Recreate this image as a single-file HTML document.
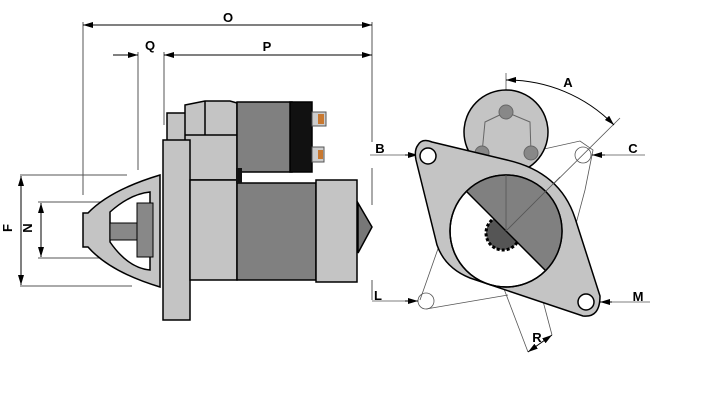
<!DOCTYPE html>
<html><head><meta charset="utf-8"><style>html,body{margin:0;padding:0;background:#fff}svg{display:block}</style></head><body>
<svg width="704" height="400" viewBox="0 0 704 400" xmlns="http://www.w3.org/2000/svg" font-family="Liberation Sans, sans-serif" font-weight="bold" font-size="13">
<defs>
<marker id="ar" viewBox="0 0 10 6" refX="10" refY="3" markerWidth="10" markerHeight="6" orient="auto-start-reverse" markerUnits="userSpaceOnUse"><path d="M0,0L10,3L0,6z" fill="#000"/></marker>
</defs>
<g stroke="#555" stroke-width="1" fill="none">
<line x1="83" y1="22" x2="83" y2="195"/>
<line x1="372" y1="22" x2="372" y2="142"/>
<line x1="372" y1="168" x2="372" y2="205"/>
<line x1="372" y1="280" x2="372" y2="300"/>
<line x1="138" y1="52" x2="138" y2="170"/>
<line x1="164" y1="52" x2="164" y2="125"/>
<line x1="20" y1="175" x2="127" y2="175"/>
<line x1="20" y1="286" x2="132" y2="286"/>
<line x1="38" y1="202" x2="135" y2="202"/>
<line x1="38" y1="258" x2="135" y2="258"/>
</g>
<g stroke="#000" stroke-width="1" fill="none">
<line x1="83" y1="25" x2="372" y2="25" marker-start="url(#ar)" marker-end="url(#ar)"/>
<line x1="113" y1="55" x2="138" y2="55" marker-end="url(#ar)"/>
<line x1="164" y1="55" x2="372" y2="55" marker-start="url(#ar)" marker-end="url(#ar)"/>
<line x1="21" y1="176" x2="21" y2="285" marker-start="url(#ar)" marker-end="url(#ar)"/>
<line x1="41" y1="203" x2="41" y2="257" marker-start="url(#ar)" marker-end="url(#ar)"/>
</g>
<text x="228" y="22" text-anchor="middle">O</text>
<text x="150" y="50" text-anchor="middle">Q</text>
<text x="267" y="51" text-anchor="middle">P</text>
<text x="15" y="231" text-anchor="middle" transform="rotate(-90 12 231)">F</text>
<text x="35" y="231" text-anchor="middle" transform="rotate(-90 32 231)">N</text>

<g stroke="#000" stroke-width="1.5">
<path d="M83,213 L88,213 Q110,190 160,175 L160,287 Q110,272 88,247 L83,247 Z" fill="#c4c4c4"/>
<path d="M110,212 Q130,194 150,192 L150,270 Q128,268 110,242 Z" fill="#fff"/>
<rect x="110" y="223" width="30" height="17" fill="#888" stroke-width="1"/>
<rect x="137" y="203" width="16" height="54" fill="#888" stroke-width="1"/>
<rect x="167" y="113" width="19" height="28" fill="#c4c4c4"/>
<path d="M185,105 L205,101 L230,101 L237,103 L237,180 L185,180 Z" fill="#c4c4c4"/>
<line x1="205" y1="101" x2="205" y2="135"/><line x1="185" y1="135" x2="237" y2="135"/>
<rect x="237" y="102" width="55" height="70" fill="#808080"/>
<rect x="290" y="102" width="22" height="70" fill="#111"/>
<rect x="163" y="140" width="27" height="180" fill="#c4c4c4"/>
<rect x="190" y="180" width="47" height="100" fill="#c4c4c4"/>
<rect x="237" y="183" width="79" height="97" fill="#808080"/>
<rect x="316" y="180" width="41" height="102" fill="#c4c4c4"/>
<path d="M358,203 L372,227 L358,253 Z" fill="#777"/>
</g>
<line x1="190" y1="200" x2="190" y2="260" stroke="#000"/>
<rect x="312" y="112" width="14" height="14" fill="#ccc" stroke="#555"/><rect x="318" y="114" width="6" height="10" fill="#c87830"/>
<rect x="312" y="147" width="12" height="15" fill="#ccc" stroke="#555"/><rect x="318" y="150" width="5" height="9" fill="#c87830"/>
<rect x="236" y="168" width="6" height="15" fill="#111"/>

<g stroke="#555" stroke-width="0.8" fill="none">
<line x1="506" y1="73" x2="506" y2="231"/>
<line x1="506" y1="231" x2="620" y2="118"/>
<path d="M420,300 L440,243 M426,309 L508,295 M508,157 L580,141 L593,150 L585,190 L573,235"/>
<circle cx="583" cy="155" r="8"/>
<circle cx="426" cy="301" r="8"/>
<line x1="490" y1="252" x2="528" y2="352"/>
<line x1="530" y1="252" x2="552" y2="335"/>
<line x1="370" y1="155" x2="418" y2="155"/>
<line x1="595" y1="155" x2="645" y2="155"/>
<line x1="372" y1="301" x2="418" y2="301"/>
<line x1="600" y1="302" x2="650" y2="302"/>
</g>
<g stroke="#000" fill="none" stroke-width="1">
<path d="M506,80 A150,150 0 0 1 614,125" marker-start="url(#ar)" marker-end="url(#ar)"/>
<line x1="405" y1="155" x2="418" y2="155" marker-end="url(#ar)"/>
<line x1="605" y1="155" x2="592" y2="155" marker-end="url(#ar)"/>
<line x1="405" y1="301" x2="418" y2="301" marker-end="url(#ar)"/>
<line x1="612" y1="302" x2="600" y2="302" marker-end="url(#ar)"/>
<line x1="528" y1="352" x2="552" y2="335" marker-start="url(#ar)" marker-end="url(#ar)"/>
</g>
<circle cx="506" cy="132" r="42" fill="#c4c4c4" stroke="#000" stroke-width="1.5"/>
<path d="M506,112 L485,122 L482,153 M506,112 L530,122 L531,153" stroke="#666" fill="none"/>
<circle cx="506" cy="112" r="7" fill="#888" stroke="#666"/>
<circle cx="482" cy="153" r="7" fill="#888" stroke="#666"/>
<circle cx="531" cy="153" r="7" fill="#888" stroke="#666"/>
<path d="M418,145 Q422,138 432,142 L507,160 Q560,172 575,218 L600,296 Q600,318 583,316 L470,278 Q445,268 437,245 L416,160 Q414,150 418,145 Z" fill="#c4c4c4" stroke="#000" stroke-width="1.5"/>
<circle cx="506" cy="231" r="56" fill="#fff" stroke="#000" stroke-width="1.5"/>
<circle cx="503" cy="233" r="17" fill="#555" stroke="#000" stroke-dasharray="3 2" stroke-width="3"/>
<path d="M466.4,191.4 A56,56 0 0 1 545.6,270.6 Z" fill="#808080"/>
<line x1="466.4" y1="191.4" x2="545.6" y2="270.6" stroke="#000" stroke-width="1.5"/>
<circle cx="506" cy="231" r="56" fill="none" stroke="#000" stroke-width="1.5"/>
<line x1="506" y1="175" x2="506" y2="231" stroke="#555" stroke-width="0.8"/>
<line x1="506" y1="231" x2="560" y2="177" stroke="#555" stroke-width="0.8"/>
<circle cx="428" cy="156" r="8" fill="#fff" stroke="#000" stroke-width="1.5"/>
<circle cx="586" cy="302" r="8" fill="#fff" stroke="#000" stroke-width="1.5"/>
<text x="568" y="87" text-anchor="middle">A</text>
<text x="380" y="153" text-anchor="middle">B</text>
<text x="633" y="153" text-anchor="middle">C</text>
<text x="378" y="300" text-anchor="middle">L</text>
<text x="638" y="301" text-anchor="middle">M</text>
<text x="537" y="342" text-anchor="middle">R</text>
</svg>
</body></html>
